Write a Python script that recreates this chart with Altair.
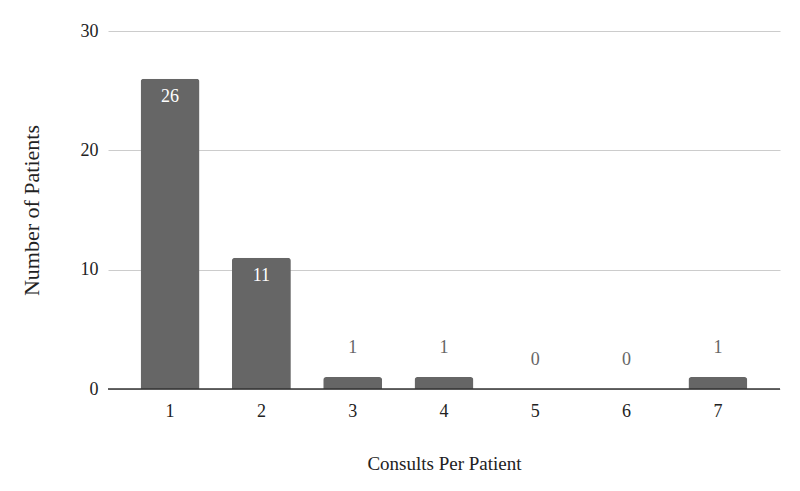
import altair as alt
import pandas as pd

consults = ["1", "2", "3", "4", "5", "6", "7"]
patients = [26, 11, 1, 1, 0, 0, 1]

df = pd.DataFrame({"consults": consults, "patients": patients})

FONT = "'Times New Roman', 'Liberation Serif', Times, serif"

x = alt.X("consults:N", sort=consults, title="Consults Per Patient",
          scale=alt.Scale(paddingInner=0.354, paddingOuter=0.357),
          axis=alt.Axis(labelAngle=0, ticks=False, domain=False, labelPadding=13,
                        labelFontSize=18, titleFontSize=19, titlePadding=34,
                        labelColor="#222", titleColor="#222", grid=False,
                        labelFont=FONT, titleFont=FONT, titleFontWeight="normal"))
y = alt.Y("patients:Q", title="Number of Patients",
          scale=alt.Scale(domain=[0, 30]),
          axis=alt.Axis(values=[0, 10, 20, 30], ticks=False, domain=False,
                        labelPadding=10, labelFontSize=18, titleFontSize=22,
                        titlePadding=37, labelColor="#222", titleColor="#222",
                        gridColor="#cccccc", labelFont=FONT, titleFont=FONT,
                        titleFontWeight="normal"))

base = alt.Chart(df)

bars = base.mark_bar(color="#666666", cornerRadiusTopLeft=3,
                     cornerRadiusTopRight=3).encode(x=x, y=y)

zero = alt.Chart(pd.DataFrame({"z": [0]})).mark_rule(color="#333333", strokeWidth=1.3).encode(
    y=alt.Y("z:Q", scale=alt.Scale(domain=[0, 30])))

inside = base.transform_filter("datum.patients >= 5").mark_text(
    baseline="middle", dy=18, color="white", fontSize=18, font=FONT
).encode(x=x, y=y, text="patients:Q")

outside = base.transform_filter("datum.patients < 5").mark_text(
    baseline="middle", dy=-29, color="#666666", fontSize=18, font=FONT
).encode(x=x, y=y, text="patients:Q")

chart = alt.layer(bars, zero, inside, outside).properties(
    width=672, height=358,
    autosize=alt.AutoSizeParams(type="none"),
    padding={"left": 100, "top": 23, "right": 12, "bottom": 94},
).configure_view(stroke=None)

chart.save("out.html", embed_options={"renderer": "svg", "actions": False})
